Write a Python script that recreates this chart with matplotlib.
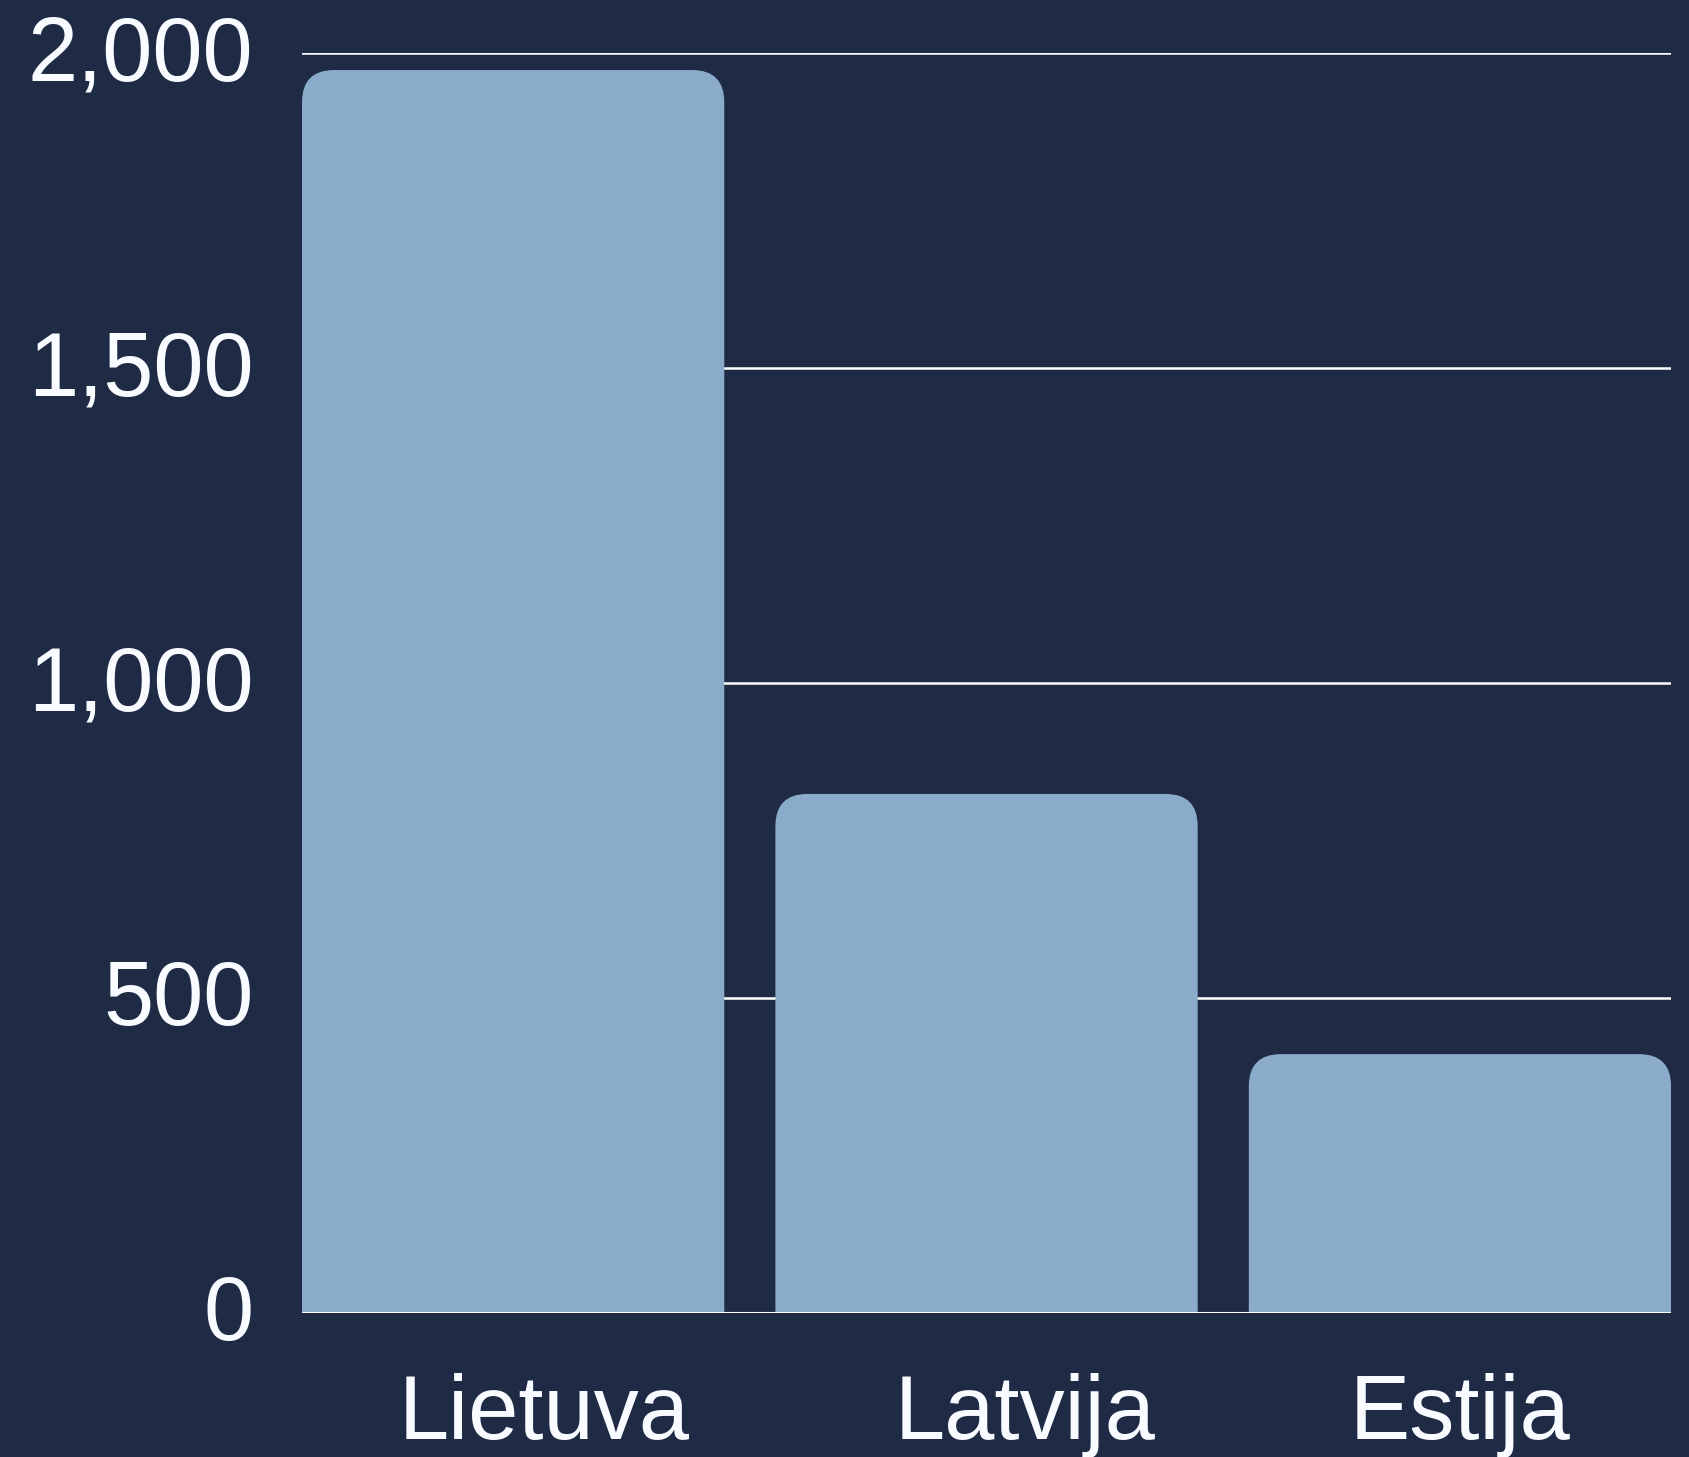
import matplotlib
matplotlib.use("Agg")
import matplotlib.pyplot as plt
import matplotlib.transforms as mtransforms
from matplotlib.patches import FancyBboxPatch
from matplotlib.ticker import FuncFormatter

# data
countries = ["Lietuva", "Latvija", "Estija"]
values = [1973, 824, 411]
y_ticks = [0, 500, 1000, 1500, 2000]

BG = "#1f2b44"
BAR = "#8aabca"
FG = "#f8fbff"

plt.rcParams["font.family"] = ["Liberation Sans", "DejaVu Sans"]

fig = plt.figure(figsize=(16.9, 14.57), dpi=100, facecolor=BG)
ax = fig.add_axes([0.1787, 0.0988, 0.9888 - 0.1787, 0.9636 - 0.0988])
ax.set_facecolor(BG)

width = 0.892
xs = range(len(countries))
ax.set_xlim(-width / 2, len(countries) - 1 + width / 2)
ax.set_ylim(0, 2000)

# rounded top corners: ~32 px radius in both directions
rx = 0.068
ry = 51.0
for x, v in zip(xs, values):
    box = FancyBboxPatch((x - width / 2, -ry), width, v + ry,
                         boxstyle=f"round,pad=0,rounding_size={rx}",
                         mutation_aspect=ry / rx,
                         facecolor=BAR, edgecolor="none", zorder=2)
    ax.add_patch(box)

for t in y_ticks[1:]:
    ax.axhline(t, color="white", lw=1.8, zorder=1)
ax.axhline(0, color="white", lw=1.5, zorder=3)

for s in ax.spines.values():
    s.set_visible(False)

ax.set_yticks(y_ticks)
ax.yaxis.set_major_formatter(FuncFormatter(lambda v, p: f"{int(v):,}"))
ax.set_xticks(list(xs))
ax.set_xticklabels(countries)
ax.tick_params(axis="y", length=0, pad=35, labelsize=65, labelcolor=FG)
ax.tick_params(axis="x", length=0, pad=43, labelsize=65, labelcolor=FG)

# nudge the value labels up a touch
for lab in ax.get_yticklabels():
    lab.set_transform(lab.get_transform()
                      + mtransforms.ScaledTranslation(0, 6 / 100, fig.dpi_scale_trans))

# the category labels sit a little right of the bar centres in the original
label_shift_px = [31, 39, 0]
for lab, dx in zip(ax.get_xticklabels(), label_shift_px):
    lab.set_transform(lab.get_transform()
                      + mtransforms.ScaledTranslation(dx / 100, 0, fig.dpi_scale_trans))

fig.savefig("out.png", dpi=100, facecolor=BG)
